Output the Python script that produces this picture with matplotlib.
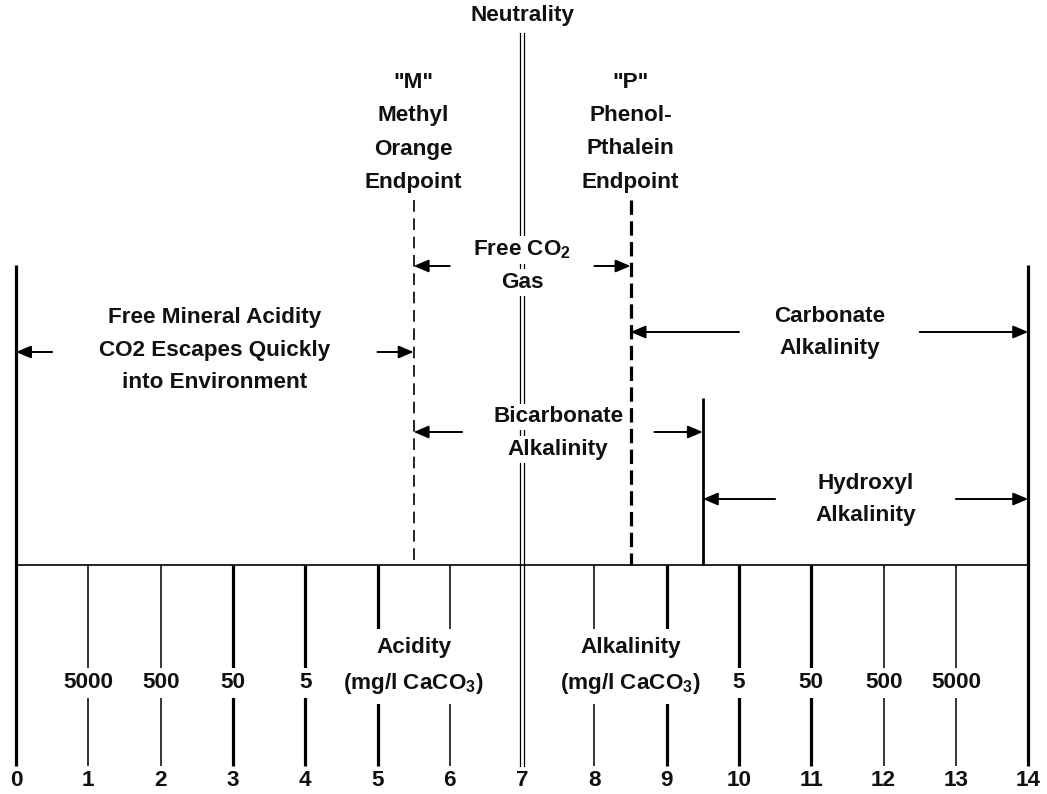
import matplotlib
matplotlib.use("Agg")
import matplotlib.pyplot as plt

plt.rcParams['font.family'] = ['Liberation Sans', 'DejaVu Sans']
plt.rcParams['font.weight'] = 'bold'
plt.rcParams['mathtext.fontset'] = 'custom'
plt.rcParams['mathtext.rm'] = 'Liberation Sans:bold'
plt.rcParams['mathtext.it'] = 'Liberation Sans:bold'
plt.rcParams['mathtext.bf'] = 'Liberation Sans:bold'

# pH scale
ph_values = list(range(15))
thick_ph = [0, 3, 4, 5, 9, 10, 11, 14]
conc_ph = [1, 2, 3, 4, 10, 11, 12, 13]
conc_labels = ['5000', '500', '50', '5', '5', '50', '500', '5000']

neutral_ph = 7
m_endpoint = 5.5
p_endpoint = 8.5
hydroxyl_start = 9.5

# zones: (text lines, left pH, right pH)
zone_text = [
    ['Free CO$_2$', 'Gas'],
    ['Free Mineral Acidity', 'CO2 Escapes Quickly', 'into Environment'],
    ['Carbonate', 'Alkalinity'],
    ['Bicarbonate', 'Alkalinity'],
    ['Hydroxyl', 'Alkalinity'],
]
zone_left = [5.5, 0, 8.5, 5.5, 9.5]
zone_right = [8.5, 5.5, 14, 9.5, 14]

PX = 72.3          # pixels per pH unit
X0 = 16            # pixel of pH 0
FS = 16.2
INK = '#111111'

fig = plt.figure(figsize=(10.47, 7.94), dpi=100)
ax = fig.add_axes([0, 0, 1, 1])
ax.set_xlim(-X0 / PX, (1047 - X0) / PX)
ax.set_ylim(794, 0)
ax.axis('off')

base_y = 565
tick_bottom = 766
txt = dict(ha='center', va='center', fontsize=FS, fontweight='bold', color=INK)
white = dict(boxstyle='square,pad=0.12', fc='white', ec='none')


def stack(x, y0, lines, step=33.5, box=None):
    for i, s in enumerate(lines):
        ax.text(x, y0 + i * step, s, bbox=box, zorder=5, **txt)


def arrow(head, tail, y):
    ax.annotate('', xy=(head, y), xytext=(tail, y),
                arrowprops=dict(arrowstyle='-|>,head_length=0.9,head_width=0.38',
                                lw=1.4, color='black', shrinkA=0, shrinkB=0,
                                mutation_scale=10), zorder=4)


# baseline
ax.plot([0, 14], [base_y, base_y], color='black', lw=1.2, zorder=2)

# ticks
for v in ph_values:
    ax.text(v, 781, str(v), **txt)
    if v == neutral_ph:
        for off in (-0.024, 0.024):
            ax.plot([v + off, v + off], [33, tick_bottom], color='black', lw=0.9, zorder=2)
        continue
    top = 265 if v in (0, 14) else base_y
    lw = 2.3 if v in thick_ph else 1.1
    ax.plot([v, v], [top, tick_bottom], color='black', lw=lw, zorder=2,
            solid_capstyle='butt')

for v, s in zip(conc_ph, conc_labels):
    ax.text(v, 683, s, bbox=dict(boxstyle='square,pad=0.22', fc='white', ec='none'),
            zorder=5, **txt)

# endpoints
ax.plot([m_endpoint] * 2, [200, base_y], color='black', lw=1.2,
        dashes=(7, 4), zorder=2)
ax.plot([p_endpoint] * 2, [200, base_y], color='black', lw=2.3,
        dashes=(4.5, 2), zorder=2)
ax.plot([hydroxyl_start] * 2, [398, base_y], color='black', lw=2.0, zorder=2,
        solid_capstyle='butt')

ax.text(neutral_ph, 15, 'Neutrality', **txt)
stack(m_endpoint, 82, ['"M"', 'Methyl', 'Orange', 'Endpoint'])
stack(p_endpoint, 82, ['"P"', 'Phenol-', 'Pthalein', 'Endpoint'])

# zones with arrows
zone_y = [250, 318, 316, 417, 483]
arrow_y = [266, 352, 332, 432, 499]
half_gap = [1.0, 2.25, 1.25, 1.33, 1.25]
for lines, lo, hi, ty, ay, g in zip(zone_text, zone_left, zone_right, zone_y, arrow_y, half_gap):
    mid = (lo + hi) / 2
    stack(mid, ty, lines, step=32.5, box=white)
    arrow(lo, mid - g, ay)
    arrow(hi, mid + g, ay)

bottom_box = dict(boxstyle='square,pad=0.38', fc='white', ec='none')
stack(m_endpoint, 648, ['Acidity', '(mg/l CaCO$_3$)'], step=35, box=bottom_box)
stack(p_endpoint, 648, ['Alkalinity', '(mg/l CaCO$_3$)'], step=35, box=bottom_box)

fig.savefig('out.png', dpi=100)
